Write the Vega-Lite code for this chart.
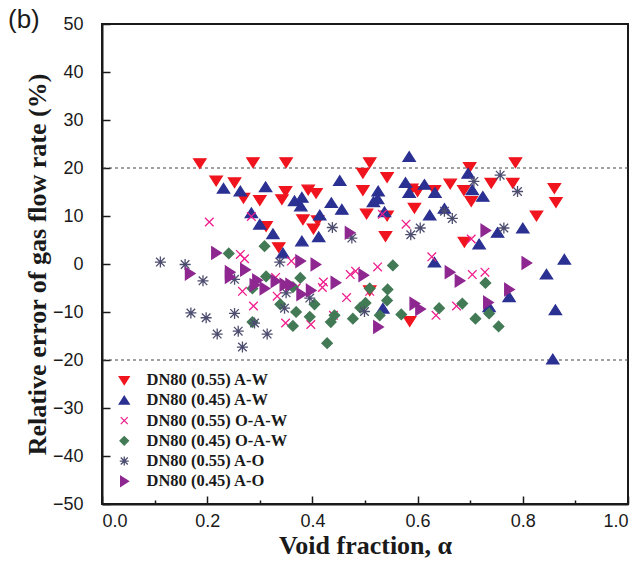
{
  "$schema": "https://vega.github.io/schema/vega-lite/v6.json",
  "width": 526,
  "height": 480,
  "autosize": "none",
  "padding": {"left": 102, "top": 24, "right": 15, "bottom": 75},
  "background": "white",
  "title": {"text": "(b)", "anchor": "start", "frame": "group", "dx": -94, "dy": 22, "fontSize": 26, "font": "Liberation Sans", "fontWeight": "normal", "color": "#1a1a1a"},
  "config": {
    "view": {"stroke": "#1a1a1a", "strokeWidth": 2},
    "axis": {"grid": false, "domainColor": "#1a1a1a", "domainWidth": 2, "tickColor": "#1a1a1a", "tickWidth": 1.5, "labelFont": "Liberation Sans", "labelFontSize": 18, "labelColor": "#1a1a1a", "titleFont": "Liberation Serif", "titleFontWeight": "bold", "titleFontSize": 26, "titleColor": "#1a1a1a"}
  },
  "layer": [
    {
      "data": {"values": [{"ref": 20}, {"ref": -20}]},
      "mark": {"type": "rule", "color": "#444444", "strokeWidth": 1.2, "strokeDash": [3, 3]},
      "encoding": {"y": {"field": "ref", "type": "quantitative", "scale": {"domain": [-50, 50], "nice": false}}}
    },
    {
      "data": {"values": [
        {"s":"DN80 (0.55) A-W","x":0.186,"y":21.0},{"s":"DN80 (0.55) A-W","x":0.287,"y":21.2},{"s":"DN80 (0.55) A-W","x":0.217,"y":17.4},{"s":"DN80 (0.55) A-W","x":0.252,"y":17.0},{"s":"DN80 (0.55) A-W","x":0.269,"y":13.8},{"s":"DN80 (0.55) A-W","x":0.300,"y":13.3},{"s":"DN80 (0.55) A-W","x":0.312,"y":7.9},{"s":"DN80 (0.55) A-W","x":0.350,"y":21.2},{"s":"DN80 (0.55) A-W","x":0.509,"y":21.2},{"s":"DN80 (0.55) A-W","x":0.349,"y":15.2},{"s":"DN80 (0.55) A-W","x":0.342,"y":13.5},{"s":"DN80 (0.55) A-W","x":0.392,"y":15.5},{"s":"DN80 (0.55) A-W","x":0.407,"y":14.8},{"s":"DN80 (0.55) A-W","x":0.496,"y":19.0},{"s":"DN80 (0.55) A-W","x":0.542,"y":18.1},{"s":"DN80 (0.55) A-W","x":0.496,"y":15.4},{"s":"DN80 (0.55) A-W","x":0.589,"y":15.7},{"s":"DN80 (0.55) A-W","x":0.600,"y":15.2},{"s":"DN80 (0.55) A-W","x":0.632,"y":15.4},{"s":"DN80 (0.55) A-W","x":0.594,"y":11.7},{"s":"DN80 (0.55) A-W","x":0.382,"y":9.3},{"s":"DN80 (0.55) A-W","x":0.410,"y":9.1},{"s":"DN80 (0.55) A-W","x":0.402,"y":7.4},{"s":"DN80 (0.55) A-W","x":0.336,"y":3.5},{"s":"DN80 (0.55) A-W","x":0.503,"y":10.5},{"s":"DN80 (0.55) A-W","x":0.542,"y":10.1},{"s":"DN80 (0.55) A-W","x":0.539,"y":5.8},{"s":"DN80 (0.55) A-W","x":0.509,"y":-5.5},{"s":"DN80 (0.55) A-W","x":0.585,"y":-11.9},{"s":"DN80 (0.55) A-W","x":0.699,"y":20.2},{"s":"DN80 (0.55) A-W","x":0.786,"y":21.2},{"s":"DN80 (0.55) A-W","x":0.662,"y":16.75},{"s":"DN80 (0.55) A-W","x":0.688,"y":15.4},{"s":"DN80 (0.55) A-W","x":0.702,"y":13.1},{"s":"DN80 (0.55) A-W","x":0.740,"y":16.9},{"s":"DN80 (0.55) A-W","x":0.781,"y":16.9},{"s":"DN80 (0.55) A-W","x":0.860,"y":15.8},{"s":"DN80 (0.55) A-W","x":0.863,"y":12.9},{"s":"DN80 (0.55) A-W","x":0.826,"y":10.1},{"s":"DN80 (0.55) A-W","x":0.689,"y":4.6},
        {"s":"DN80 (0.45) A-W","x":0.231,"y":15.7},{"s":"DN80 (0.45) A-W","x":0.263,"y":15.1},{"s":"DN80 (0.45) A-W","x":0.311,"y":16.0},{"s":"DN80 (0.45) A-W","x":0.284,"y":10.6},{"s":"DN80 (0.45) A-W","x":0.300,"y":8.2},{"s":"DN80 (0.45) A-W","x":0.584,"y":22.3},{"s":"DN80 (0.45) A-W","x":0.452,"y":17.3},{"s":"DN80 (0.45) A-W","x":0.380,"y":13.8},{"s":"DN80 (0.45) A-W","x":0.366,"y":13.1},{"s":"DN80 (0.45) A-W","x":0.378,"y":12.0},{"s":"DN80 (0.45) A-W","x":0.436,"y":12.7},{"s":"DN80 (0.45) A-W","x":0.456,"y":11.3},{"s":"DN80 (0.45) A-W","x":0.525,"y":15.1},{"s":"DN80 (0.45) A-W","x":0.524,"y":13.5},{"s":"DN80 (0.45) A-W","x":0.516,"y":12.9},{"s":"DN80 (0.45) A-W","x":0.577,"y":16.9},{"s":"DN80 (0.45) A-W","x":0.584,"y":14.8},{"s":"DN80 (0.45) A-W","x":0.613,"y":16.5},{"s":"DN80 (0.45) A-W","x":0.633,"y":14.8},{"s":"DN80 (0.45) A-W","x":0.623,"y":10.1},{"s":"DN80 (0.45) A-W","x":0.414,"y":10.1},{"s":"DN80 (0.45) A-W","x":0.325,"y":6.2},{"s":"DN80 (0.45) A-W","x":0.412,"y":5.6},{"s":"DN80 (0.45) A-W","x":0.380,"y":4.7},{"s":"DN80 (0.45) A-W","x":0.344,"y":2.2},{"s":"DN80 (0.45) A-W","x":0.537,"y":10.8},{"s":"DN80 (0.45) A-W","x":0.632,"y":0.3},{"s":"DN80 (0.45) A-W","x":0.534,"y":-9.3},{"s":"DN80 (0.45) A-W","x":0.696,"y":18.8},{"s":"DN80 (0.45) A-W","x":0.704,"y":15.4},{"s":"DN80 (0.45) A-W","x":0.724,"y":14.0},{"s":"DN80 (0.45) A-W","x":0.651,"y":11.5},{"s":"DN80 (0.45) A-W","x":0.752,"y":6.5},{"s":"DN80 (0.45) A-W","x":0.800,"y":7.4},{"s":"DN80 (0.45) A-W","x":0.717,"y":4.1},{"s":"DN80 (0.45) A-W","x":0.879,"y":0.9},{"s":"DN80 (0.45) A-W","x":0.845,"y":-2.2},{"s":"DN80 (0.45) A-W","x":0.774,"y":-6.9},{"s":"DN80 (0.45) A-W","x":0.736,"y":-9.0},{"s":"DN80 (0.45) A-W","x":0.862,"y":-9.6},{"s":"DN80 (0.45) A-W","x":0.857,"y":-19.9},
        {"s":"DN80 (0.55) O-A-W","x":0.284,"y":9.9},{"s":"DN80 (0.55) O-A-W","x":0.204,"y":8.75},{"s":"DN80 (0.55) O-A-W","x":0.263,"y":2.0},{"s":"DN80 (0.55) O-A-W","x":0.271,"y":1.1},{"s":"DN80 (0.55) O-A-W","x":0.267,"y":-5.7},{"s":"DN80 (0.55) O-A-W","x":0.288,"y":-8.75},{"s":"DN80 (0.55) O-A-W","x":0.533,"y":10.35},{"s":"DN80 (0.55) O-A-W","x":0.578,"y":8.3},{"s":"DN80 (0.55) O-A-W","x":0.360,"y":0.6},{"s":"DN80 (0.55) O-A-W","x":0.524,"y":-0.6},{"s":"DN80 (0.55) O-A-W","x":0.627,"y":1.5},{"s":"DN80 (0.55) O-A-W","x":0.330,"y":-2.8},{"s":"DN80 (0.55) O-A-W","x":0.333,"y":-6.7},{"s":"DN80 (0.55) O-A-W","x":0.369,"y":-5.0},{"s":"DN80 (0.55) O-A-W","x":0.421,"y":-3.75},{"s":"DN80 (0.55) O-A-W","x":0.419,"y":-4.9},{"s":"DN80 (0.55) O-A-W","x":0.465,"y":-7.0},{"s":"DN80 (0.55) O-A-W","x":0.472,"y":-2.2},{"s":"DN80 (0.55) O-A-W","x":0.482,"y":-1.5},{"s":"DN80 (0.55) O-A-W","x":0.509,"y":-5.7},{"s":"DN80 (0.55) O-A-W","x":0.440,"y":-10.7},{"s":"DN80 (0.55) O-A-W","x":0.397,"y":-12.6},{"s":"DN80 (0.55) O-A-W","x":0.349,"y":-12.3},{"s":"DN80 (0.55) O-A-W","x":0.635,"y":-10.7},{"s":"DN80 (0.55) O-A-W","x":0.702,"y":5.2},{"s":"DN80 (0.55) O-A-W","x":0.704,"y":-2.2},{"s":"DN80 (0.55) O-A-W","x":0.728,"y":-1.7},{"s":"DN80 (0.55) O-A-W","x":0.674,"y":-8.75},
        {"s":"DN80 (0.45) O-A-W","x":0.241,"y":2.2},{"s":"DN80 (0.45) O-A-W","x":0.309,"y":3.7},{"s":"DN80 (0.45) O-A-W","x":0.312,"y":-2.6},{"s":"DN80 (0.45) O-A-W","x":0.286,"y":-5.1},{"s":"DN80 (0.45) O-A-W","x":0.286,"y":-12.1},{"s":"DN80 (0.45) O-A-W","x":0.553,"y":-0.3},{"s":"DN80 (0.45) O-A-W","x":0.377,"y":-2.9},{"s":"DN80 (0.45) O-A-W","x":0.363,"y":-4.8},{"s":"DN80 (0.45) O-A-W","x":0.404,"y":-8.4},{"s":"DN80 (0.45) O-A-W","x":0.339,"y":-8.4},{"s":"DN80 (0.45) O-A-W","x":0.369,"y":-10.0},{"s":"DN80 (0.45) O-A-W","x":0.509,"y":-5.1},{"s":"DN80 (0.45) O-A-W","x":0.543,"y":-5.3},{"s":"DN80 (0.45) O-A-W","x":0.542,"y":-7.6},{"s":"DN80 (0.45) O-A-W","x":0.501,"y":-8.1},{"s":"DN80 (0.45) O-A-W","x":0.491,"y":-9.1},{"s":"DN80 (0.45) O-A-W","x":0.528,"y":-10.7},{"s":"DN80 (0.45) O-A-W","x":0.477,"y":-11.4},{"s":"DN80 (0.45) O-A-W","x":0.442,"y":-10.7},{"s":"DN80 (0.45) O-A-W","x":0.435,"y":-12.1},{"s":"DN80 (0.45) O-A-W","x":0.395,"y":-11.0},{"s":"DN80 (0.45) O-A-W","x":0.363,"y":-12.9},{"s":"DN80 (0.45) O-A-W","x":0.428,"y":-16.5},{"s":"DN80 (0.45) O-A-W","x":0.569,"y":-10.5},{"s":"DN80 (0.45) O-A-W","x":0.641,"y":-9.2},{"s":"DN80 (0.45) O-A-W","x":0.729,"y":-3.95},{"s":"DN80 (0.45) O-A-W","x":0.685,"y":-8.25},{"s":"DN80 (0.45) O-A-W","x":0.710,"y":-11.4},{"s":"DN80 (0.45) O-A-W","x":0.736,"y":-10.3},{"s":"DN80 (0.45) O-A-W","x":0.754,"y":-13.0},
        {"s":"DN80 (0.55) A-O","x":0.111,"y":0.4},{"s":"DN80 (0.55) A-O","x":0.158,"y":-0.1},{"s":"DN80 (0.55) A-O","x":0.192,"y":-3.5},{"s":"DN80 (0.55) A-O","x":0.252,"y":-3.2},{"s":"DN80 (0.55) A-O","x":0.169,"y":-10.2},{"s":"DN80 (0.55) A-O","x":0.198,"y":-11.2},{"s":"DN80 (0.55) A-O","x":0.252,"y":-10.3},{"s":"DN80 (0.55) A-O","x":0.290,"y":-12.3},{"s":"DN80 (0.55) A-O","x":0.219,"y":-14.6},{"s":"DN80 (0.55) A-O","x":0.259,"y":-14.0},{"s":"DN80 (0.55) A-O","x":0.267,"y":-17.3},{"s":"DN80 (0.55) A-O","x":0.314,"y":-14.6},{"s":"DN80 (0.55) A-O","x":0.605,"y":7.5},{"s":"DN80 (0.55) A-O","x":0.587,"y":6.1},{"s":"DN80 (0.55) A-O","x":0.438,"y":7.6},{"s":"DN80 (0.55) A-O","x":0.475,"y":5.4},{"s":"DN80 (0.55) A-O","x":0.338,"y":0.4},{"s":"DN80 (0.55) A-O","x":0.350,"y":-6.0},{"s":"DN80 (0.55) A-O","x":0.395,"y":-7.1},{"s":"DN80 (0.55) A-O","x":0.347,"y":-9.2},{"s":"DN80 (0.55) A-O","x":0.499,"y":-9.9},{"s":"DN80 (0.55) A-O","x":0.757,"y":18.5},{"s":"DN80 (0.55) A-O","x":0.707,"y":17.2},{"s":"DN80 (0.55) A-O","x":0.790,"y":15.1},{"s":"DN80 (0.55) A-O","x":0.651,"y":11.0},{"s":"DN80 (0.55) A-O","x":0.666,"y":9.5},{"s":"DN80 (0.55) A-O","x":0.764,"y":7.5},
        {"s":"DN80 (0.45) A-O","x":0.217,"y":2.3},{"s":"DN80 (0.45) A-O","x":0.167,"y":-2.0},{"s":"DN80 (0.45) A-O","x":0.243,"y":-1.7},{"s":"DN80 (0.45) A-O","x":0.243,"y":-2.7},{"s":"DN80 (0.45) A-O","x":0.272,"y":-1.2},{"s":"DN80 (0.45) A-O","x":0.295,"y":-3.4},{"s":"DN80 (0.45) A-O","x":0.290,"y":-4.4},{"s":"DN80 (0.45) A-O","x":0.309,"y":-5.1},{"s":"DN80 (0.45) A-O","x":0.471,"y":6.5},{"s":"DN80 (0.45) A-O","x":0.377,"y":0.6},{"s":"DN80 (0.45) A-O","x":0.406,"y":-0.1},{"s":"DN80 (0.45) A-O","x":0.330,"y":-3.6},{"s":"DN80 (0.45) A-O","x":0.347,"y":-4.3},{"s":"DN80 (0.45) A-O","x":0.358,"y":-4.3},{"s":"DN80 (0.45) A-O","x":0.379,"y":-6.3},{"s":"DN80 (0.45) A-O","x":0.397,"y":-5.5},{"s":"DN80 (0.45) A-O","x":0.444,"y":-3.9},{"s":"DN80 (0.45) A-O","x":0.497,"y":-2.35},{"s":"DN80 (0.45) A-O","x":0.525,"y":-13.1},{"s":"DN80 (0.45) A-O","x":0.594,"y":-8.25},{"s":"DN80 (0.45) A-O","x":0.605,"y":-9.4},{"s":"DN80 (0.45) A-O","x":0.729,"y":7.0},{"s":"DN80 (0.45) A-O","x":0.661,"y":-1.7},{"s":"DN80 (0.45) A-O","x":0.807,"y":0.2},{"s":"DN80 (0.45) A-O","x":0.680,"y":-3.5},{"s":"DN80 (0.45) A-O","x":0.774,"y":-5.3},{"s":"DN80 (0.45) A-O","x":0.734,"y":-8.0}
      ]},
      "mark": {"type": "point", "filled": false, "opacity": 1, "strokeWidth": 1.3, "size": 150},
      "encoding": {
        "x": {"field": "x", "type": "quantitative", "scale": {"domain": [0, 1], "nice": false},
          "axis": {"title": "Void fraction, α", "values": [0,0.1,0.2,0.3,0.4,0.5,0.6,0.7,0.8,0.9,1.0], "labelExpr": "round(datum.value*10) % 2 === 0 ? format(datum.value, '.1f') : ''", "tickSize": {"condition": {"test": "round(datum.value*10) % 2 === 0", "value": -8}, "value": -4}, "labelPadding": 16, "titlePadding": 2}},
        "y": {"field": "y", "type": "quantitative", "scale": {"domain": [-50, 50], "nice": false},
          "axis": {"title": "Relative error of gas flow rate (%)", "values": [-50,-45,-40,-35,-30,-25,-20,-15,-10,-5,0,5,10,15,20,25,30,35,40,45,50], "labelExpr": "datum.value % 10 === 0 ? datum.label : ''", "tickSize": {"condition": {"test": "datum.value % 10 === 0", "value": -8}, "value": -4}, "labelPadding": 27, "titlePadding": 2}},
        "color": {"field": "s", "type": "nominal",
          "scale": {"domain": ["DN80 (0.55) A-W","DN80 (0.45) A-W","DN80 (0.55) O-A-W","DN80 (0.45) O-A-W","DN80 (0.55) A-O","DN80 (0.45) A-O"], "range": ["#F0141E","#2B3192","#EE1E8C","#437A56","#4D4D70","#8E2790"]},
          "legend": {"title": null, "orient": "none", "legendX": 14, "legendY": 348, "padding": 0, "labelFont": "Liberation Serif", "labelFontWeight": "bold", "labelFontSize": 16.5, "labelColor": "#1a1a1a", "symbolSize": 100, "symbolStrokeWidth": 1.3, "rowPadding": 3.2, "labelOffset": 14}},
        "fill": {"field": "s", "type": "nominal",
          "scale": {"domain": ["DN80 (0.55) A-W","DN80 (0.45) A-W","DN80 (0.55) O-A-W","DN80 (0.45) O-A-W","DN80 (0.55) A-O","DN80 (0.45) A-O"], "range": ["#F0141E","#2B3192","#EE1E8C","#437A56","#4D4D70","#8E2790"]}},
        "shape": {"field": "s", "type": "nominal",
          "scale": {"domain": ["DN80 (0.55) A-W","DN80 (0.45) A-W","DN80 (0.55) O-A-W","DN80 (0.45) O-A-W","DN80 (0.55) A-O","DN80 (0.45) A-O"], "range": ["M-1,-0.72L1,-0.72L0,0.85Z","M-1,0.72L1,0.72L0,-0.85Z","M-0.7,-0.7L0.7,0.7M-0.7,0.7L0.7,-0.7","M0,-0.85L0.85,0L0,0.85L-0.85,0Z","M-0.7,-0.7L0.7,0.7M-0.7,0.7L0.7,-0.7M0,-0.9L0,0.9M-0.9,0L0.9,0","M-0.72,-1L0.85,0L-0.72,1Z"]}}
      }
    }
  ]
}
